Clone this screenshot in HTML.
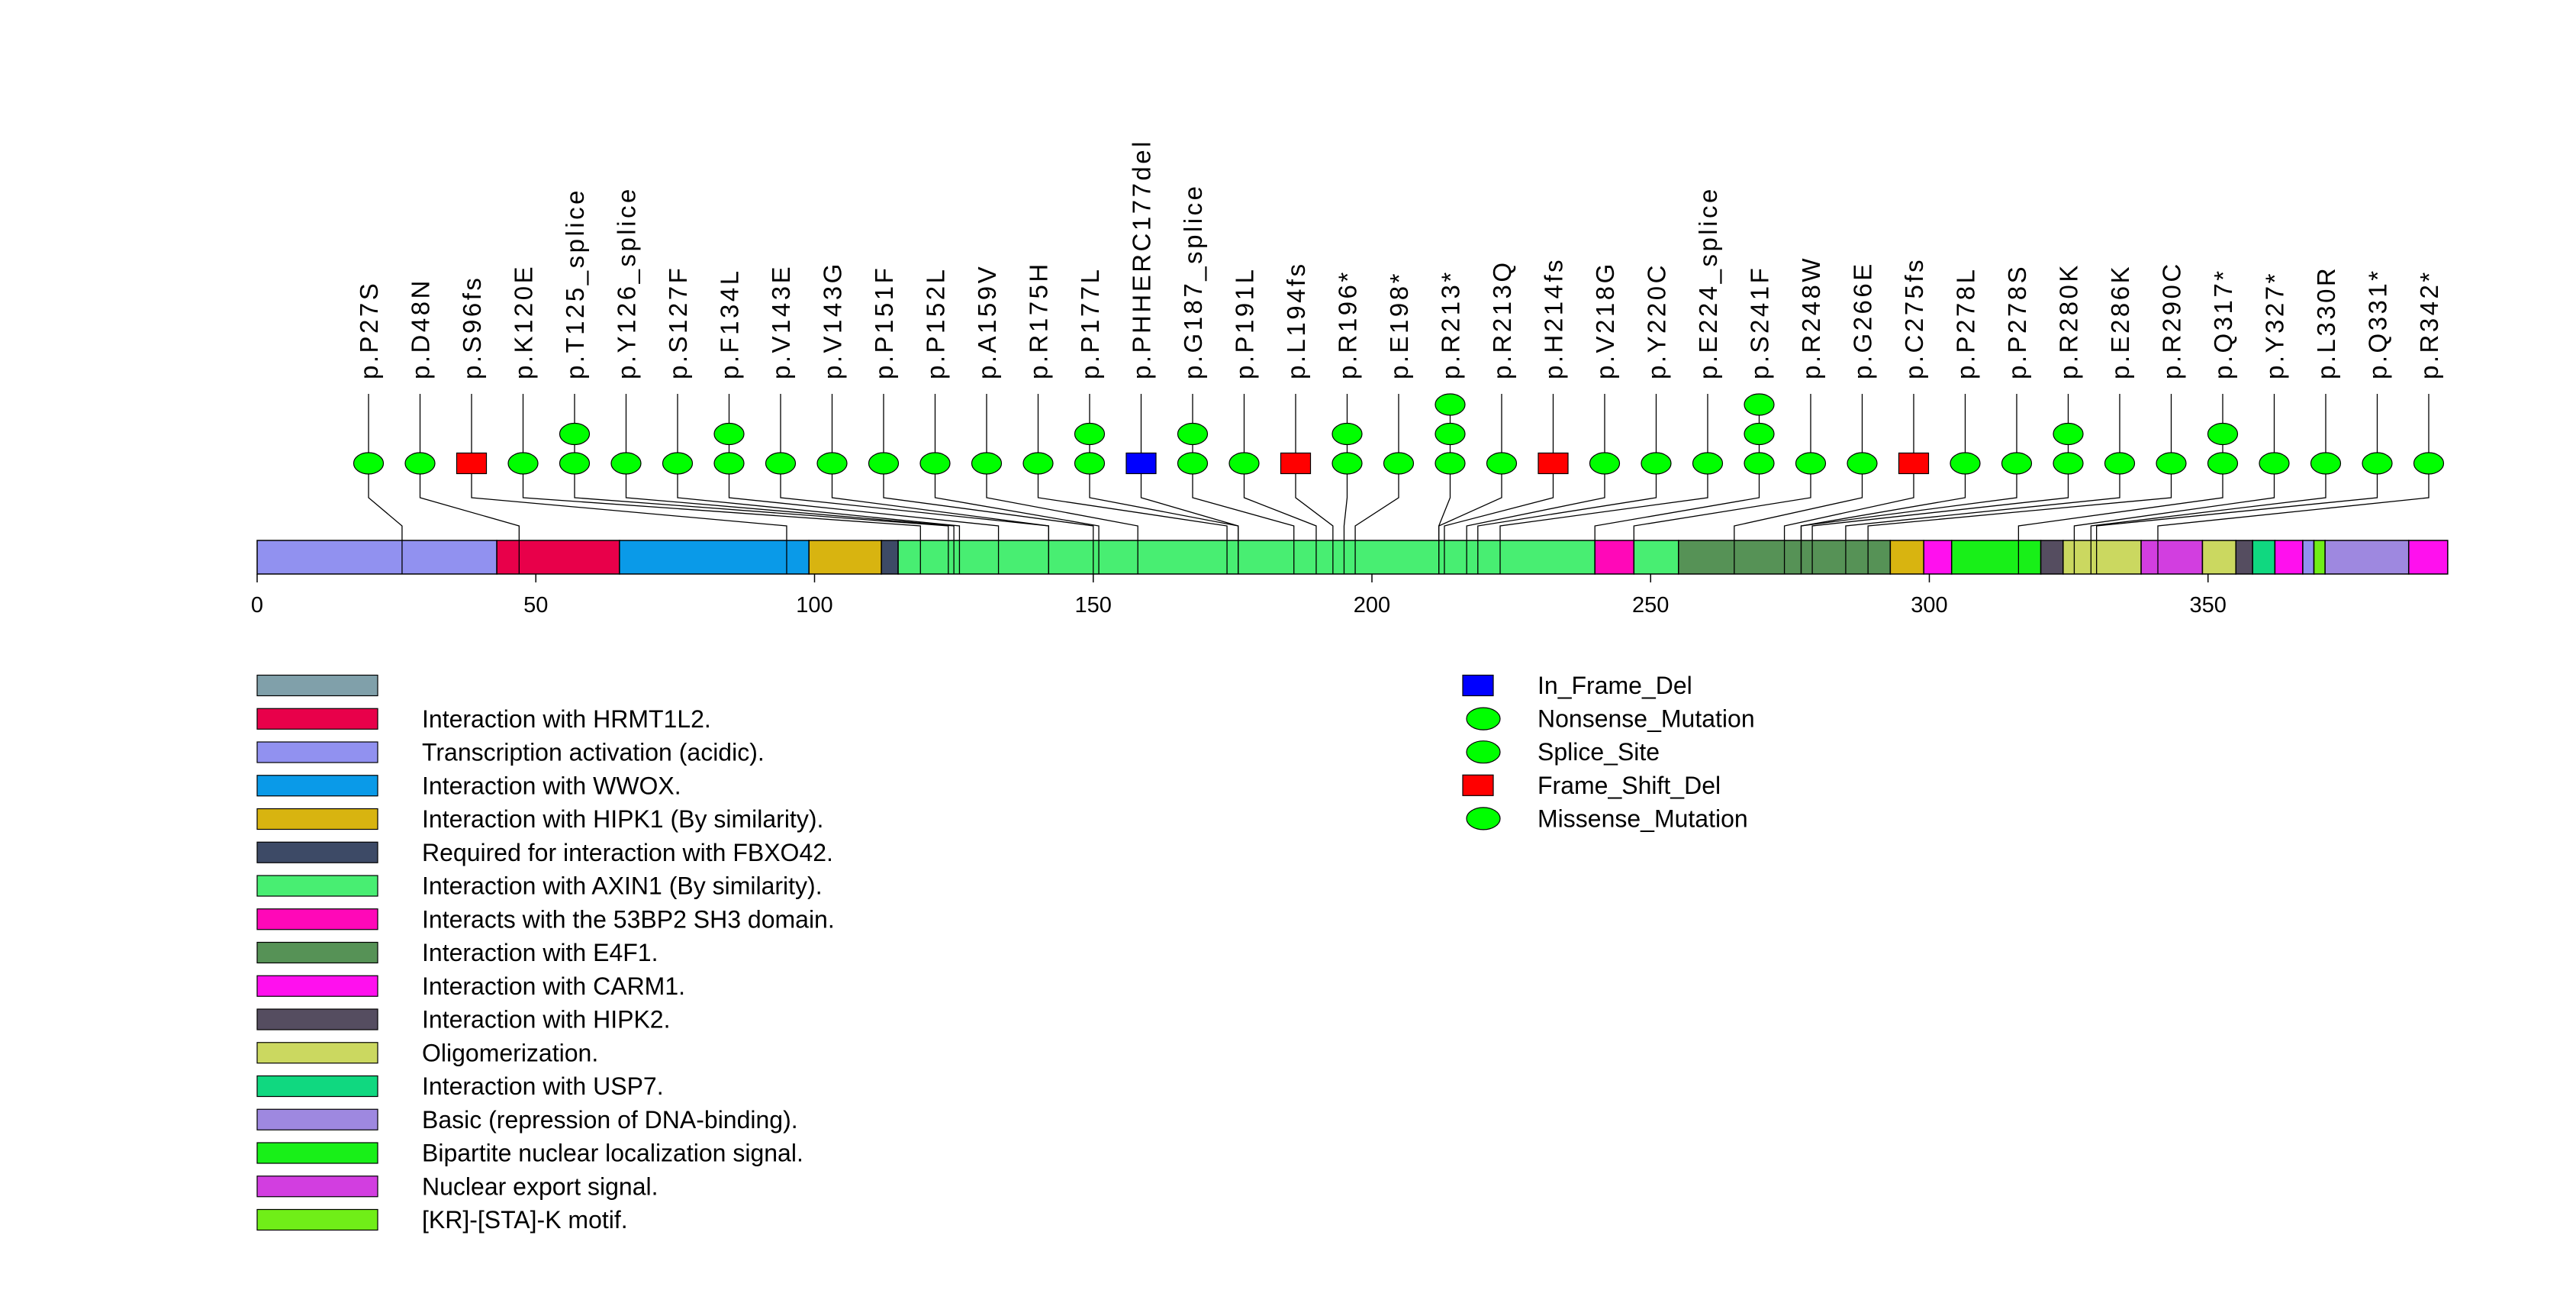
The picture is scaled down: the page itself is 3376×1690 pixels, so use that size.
<!DOCTYPE html>
<html><head><meta charset="utf-8"><style>
html,body{margin:0;padding:0;background:#fff;}
svg{display:block;font-family:"Liberation Sans",sans-serif;}
</style></head><body>
<svg id="chart" width="3376" height="1690" viewBox="0 0 3376 1690" xmlns="http://www.w3.org/2000/svg">
<rect x="0" y="0" width="3376" height="1690" fill="#fff"/>
<g id="domains"></g>
<g id="axis"></g>
<g id="muts"></g>
<g id="legend"></g>
<g id="legend2"></g>
</svg>
<script>
const mutLabels = ["p.P27S","p.D48N","p.S96fs","p.K120E","p.T125_splice","p.Y126_splice","p.S127F","p.F134L","p.V143E","p.V143G","p.P151F","p.P152L","p.A159V","p.R175H","p.P177L","p.PHHERC177del","p.G187_splice","p.P191L","p.L194fs","p.R196*","p.E198*","p.R213*","p.R213Q","p.H214fs","p.V218G","p.Y220C","p.E224_splice","p.S241F","p.R248W","p.G266E","p.C275fs","p.P278L","p.P278S","p.R280K","p.E286K","p.R290C","p.Q317*","p.Y327*","p.L330R","p.Q331*","p.R342*"];
const mutPositions = [27,48,96,120,125,126,127,134,143,143,151,152,159,175,177,177,187,191,194,196,198,213,213,214,218,220,224,241,248,266,275,278,278,280,286,290,317,327,330,331,342];
const mutCounts = [1,1,1,1,2,1,1,2,1,1,1,1,1,1,2,1,2,1,1,2,1,3,1,1,1,1,1,3,1,1,1,1,1,2,1,1,2,1,1,1,1];
const mutShapes = ["c","c","fs","c","c","c","c","c","c","c","c","c","c","c","c","del","c","c","fs","c","c","c","c","fs","c","c","c","c","c","c","fs","c","c","c","c","c","c","c","c","c","c"];
const domStarts = [0,43,65,99,112,115,240,247,255,293,299,304,320,324,338,349,355,358,362,367,369,371,386];
const domEnds   = [43,65,99,112,115,240,247,255,293,299,304,320,324,338,349,355,358,362,367,369,371,386,393];
const domColors = ["#9191f0","#e8004a","#0a9ae8","#d8b410","#3d4a66","#48ee72","#ff08b8","#48ee72","#569256","#d8b410","#ff10ee","#18f018","#554d60","#cbd860","#d23ee0","#cbd860","#554d60","#10d880","#ff10ee","#9191f0","#70ee18","#9e88e0","#ff10ee"];
const tickValues = [0,50,100,150,200,250,300,350];
const legendLabels = ["","Interaction with HRMT1L2.","Transcription activation (acidic).","Interaction with WWOX.","Interaction with HIPK1 (By similarity).","Required for interaction with FBXO42.","Interaction with AXIN1 (By similarity).","Interacts with the 53BP2 SH3 domain.","Interaction with E4F1.","Interaction with CARM1.","Interaction with HIPK2.","Oligomerization.","Interaction with USP7.","Basic (repression of DNA-binding).","Bipartite nuclear localization signal.","Nuclear export signal.","[KR]-[STA]-K motif."];
const legendColors = ["#80a0aa","#e8004a","#9191f0","#0a9ae8","#d8b410","#3d4a66","#48ee72","#ff08b8","#569256","#ff10ee","#554d60","#cbd860","#10d880","#9e88e0","#18f018","#d23ee0","#70ee18"];
const typeLabels = ["In_Frame_Del","Nonsense_Mutation","Splice_Site","Frame_Shift_Del","Missense_Mutation"];
const typeShapes = ["del","c","c","fs","c"];

const NS="http://www.w3.org/2000/svg";
const X0=337, S=7.305;
const xScale = aa => X0 + aa*S;
const BAR_TOP=708, BAR_BOT=752;
function mk(tag, attrs, parent){const e=document.createElementNS(NS,tag);for(const k in attrs)e.setAttribute(k,attrs[k]);parent.appendChild(e);return e;}

const gD=document.getElementById('domains');
for(let i=0;i<domStarts.length;i++){
  const r=mk('rect',{x:xScale(domStarts[i]),y:BAR_TOP,width:xScale(domEnds[i])-xScale(domStarts[i]),height:BAR_BOT-BAR_TOP,fill:domColors[i],stroke:'#000','stroke-width':1.5},gD);
  
  
}
const gA=document.getElementById('axis');
tickValues.forEach(v=>{
  const x=xScale(v);
  const l=mk('line',{x1:x,y1:BAR_BOT,x2:x,y2:763,stroke:'#000','stroke-width':1.5},gA);
  
  
  const t=mk('text',{x:x,y:802,'font-size':29,'text-anchor':'middle',fill:'#000'},gA);
  t.textContent=v;
  
  
});

const gM=document.getElementById('muts');
const COL0=483, COLS=67.5, ROW1=607, ROWD=38.5;
function drawShape(shape,cx,cy,parent){
  if(shape==='c') return mk('ellipse',{cx:cx,cy:cy,rx:19.5,ry:14,fill:'#00ff00',stroke:'#000','stroke-width':1.2},parent);
  return mk('rect',{x:cx-19.5,y:cy-13.5,width:39,height:27,fill:shape==='del'?'#0000ff':'#ff0000',stroke:'#000','stroke-width':1.2},parent);
}
mutLabels.forEach((lab,i)=>{
  const cx=COL0+i*COLS, tx=xScale(mutPositions[i]-1);
  const g=mk('g',{},gM);
  
  
  mk('polyline',{points:`${cx},516 ${cx},652 ${tx},689 ${tx},${BAR_BOT}`,fill:'none',stroke:'#000','stroke-width':1.3},g);
  for(let k=0;k<mutCounts[i];k++){
    const s=drawShape(mutShapes[i],cx,ROW1-k*ROWD,g);
    
    
  }
  const t=mk('text',{x:0,y:0,'font-size':33,'letter-spacing':3.5,fill:'#000',transform:`translate(${cx+12},497) rotate(-90)`},g);
  t.textContent=lab;
  
  
});

const gL=document.getElementById('legend');
legendLabels.forEach((lab,i)=>{
  const cy=898+i*43.75;
  const r=mk('rect',{x:337,y:cy-13.5,width:158,height:27,fill:legendColors[i],stroke:'#000','stroke-width':1.2},gL);
  
  
  if(lab){
    const t=mk('text',{x:553,y:cy+11,'font-size':32,fill:'#000'},gL);
    t.textContent=lab;
    
    
  }
});
const gL2=document.getElementById('legend2');
typeLabels.forEach((lab,i)=>{
  const cy=898+i*43.6;
  let s;
  if(typeShapes[i]==='c') s=mk('ellipse',{cx:1944,cy:cy,rx:22,ry:14.5,fill:'#00ff00',stroke:'#000','stroke-width':1.2},gL2);
  else s=mk('rect',{x:1917,y:cy-13.5,width:40,height:27,fill:typeShapes[i]==='del'?'#0000ff':'#ff0000',stroke:'#000','stroke-width':1.2},gL2);
  
  
  const t=mk('text',{x:2015,y:cy+11,'font-size':32,fill:'#000'},gL2);
  t.textContent=lab;
  
  
});
</script>
</body></html>
